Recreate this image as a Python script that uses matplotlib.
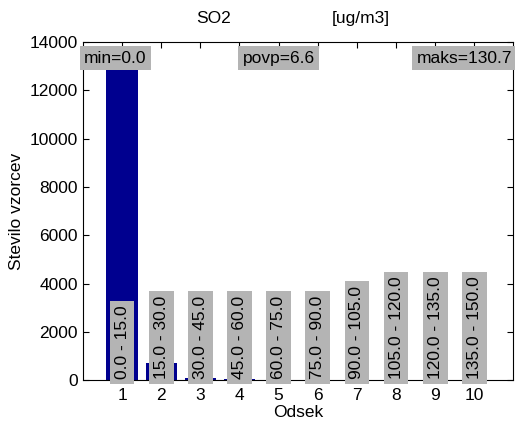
import matplotlib
matplotlib.use("Agg")
from matplotlib import pyplot as plt

plt.rcParams['font.family'] = ['Liberation Sans', 'DejaVu Sans']

# histogram of SO2 samples per interval
odsek = [1, 2, 3, 4, 5, 6, 7, 8, 9, 10]
counts = [13400, 700, 90, 30, 10, 8, 5, 4, 3, 2]
ranges = ["0.0 - 15.0", "15.0 - 30.0", "30.0 - 45.0", "45.0 - 60.0", "60.0 - 75.0",
          "75.0 - 90.0", "90.0 - 105.0", "105.0 - 120.0", "120.0 - 135.0", "135.0 - 150.0"]
v_min = 0.0
v_avg = 6.6
v_max = 130.7

def main():
	fig = plt.figure(figsize=(5.15, 4.21), dpi=100)
	ax = fig.add_axes([0.161, 0.097, 0.836, 0.803])

	ax.bar(odsek, counts, width=0.8, color='#00008f', zorder=2)

	gray = dict(boxstyle='square,pad=0.28', facecolor='#b4b4b4', edgecolor='none')
	for x, r in zip(odsek, ranges):
		ax.text(x, 40, r, rotation=90, ha='center', va='bottom', fontsize=12.5,
			bbox=gray, zorder=3)

	top = dict(boxstyle='square,pad=0.25', facecolor='#b4b4b4', edgecolor='none')
	ax.text(0.03, 13330, "min=%.1f" % v_min, ha='left', va='center', fontsize=12.5,
		bbox=top, zorder=3)
	ax.text(5.0, 13330, "povp=%.1f" % v_avg, ha='center', va='center', fontsize=12.5,
		bbox=top, zorder=3)
	ax.text(10.97, 13330, "maks=%.1f" % v_max, ha='right', va='center', fontsize=12.5,
		bbox=top, zorder=3)

	ax.set_xlim(0, 11)
	ax.set_ylim(0, 14000)
	ax.set_xticks(odsek)
	ax.set_yticks(range(0, 14001, 2000))
	ax.tick_params(direction='in', top=True, right=True, labelsize=12.5, length=4)
	ax.tick_params(axis='x', pad=6)
	ax.set_xlabel("Odsek", fontsize=12.5, labelpad=1)
	ax.set_ylabel("Stevilo vzorcev", fontsize=12.5)

	fig.text(0.415, 0.955, "SO2", ha='center', va='center', fontsize=12.5)
	fig.text(0.70, 0.955, "[ug/m3]", ha='center', va='center', fontsize=12.5)

	fig.savefig("out.png")

if __name__ == '__main__':
	main()
